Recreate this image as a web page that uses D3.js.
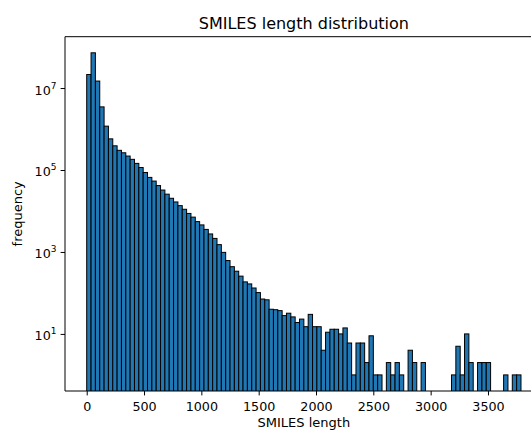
<!DOCTYPE html>
<html>
<head>
<meta charset="utf-8">
<script src="https://cdn.jsdelivr.net/npm/d3@7"></script>
<style>
  html, body { margin: 0; padding: 0; background: #fff; }
  svg { display: block; font-family: "DejaVu Sans", sans-serif; }
</style>
</head>
<body>
<svg id="chart" width="531" height="430"></svg>
<script>
// ---- data ----
const title = "SMILES length distribution";
const xLabel = "SMILES length";
const yLabel = "frequency";
const minLength = 0;
const maxLength = 3788;
const binCount = 100;
const counts = [
  21400000, 72400000, 14800000, 3470000, 1175000, 575000, 389000, 302000, 263000, 219000,
  182000, 145000, 115000, 87000, 66000, 53700, 41700, 32400, 25700, 20400,
  16600, 13500, 11000, 8710, 7080, 5500, 4570, 3550, 2750, 2140,
  1510, 977, 617, 437, 339, 257, 186, 166, 132, 102,
  71, 68, 40, 39, 37, 28, 32, 26, 19, 23,
  15, 30, 15, 15, 4, 11, 13, 13, 10, 14,
  6, 1, 6, 6, 2, 9, 1, 1, 0, 2,
  1, 2, 1, 0, 4, 2, 0, 2, 0, 0,
  0, 0, 0, 0, 1, 5, 1, 10, 2, 0,
  2, 2, 2, 0, 0, 0, 1, 0, 1, 1
];
const xTicks = [0, 500, 1000, 1500, 2000, 2500, 3000, 3500];
const yTickExps = [1, 3, 5, 7];

// ---- layout ----
const plotLeft = 65, plotRight = 542.7, plotTop = 36.7, plotBottom = 391;
const barColor = "#1f77b4";
const tickFont = 12.7, labelFont = 13, titleFont = 16;
const tickLen = 4.4;

const svg = d3.select("#chart");

const binWidth = (maxLength - minLength) / binCount;
const bins = counts.map((c, i) => ({
  x0: minLength + i * binWidth,
  x1: minLength + (i + 1) * binWidth,
  count: c
}));

const xSpan = maxLength - minLength;
const x = d3.scaleLinear()
  .domain([minLength - 0.05 * xSpan, maxLength + 0.05 * xSpan])
  .range([plotLeft, plotRight]);

const positive = counts.filter(c => c > 0);
const lmin = Math.log10(d3.min(positive));
const lmax = Math.log10(d3.max(positive));
const lspan = lmax - lmin;
const y = d3.scaleLog()
  .domain([Math.pow(10, lmin - 0.05 * lspan), Math.pow(10, lmax + 0.05 * lspan)])
  .range([plotBottom, plotTop]);

svg.append("defs").append("clipPath").attr("id", "clip")
  .append("rect").attr("x", plotLeft).attr("y", plotTop)
  .attr("width", plotRight - plotLeft).attr("height", plotBottom - plotTop);

// bars
svg.append("g").attr("clip-path", "url(#clip)")
  .selectAll("rect")
  .data(bins.filter(b => b.count > 0))
  .join("rect")
  .attr("x", d => x(d.x0))
  .attr("width", d => x(d.x1) - x(d.x0))
  .attr("y", d => y(d.count))
  .attr("height", d => plotBottom + 2 - y(d.count))
  .attr("fill", barColor)
  .attr("stroke", "#000")
  .attr("stroke-width", 1);

// x axis
const xAxis = d3.axisBottom(x).tickValues(xTicks).tickSize(tickLen).tickPadding(7).tickFormat(d3.format("d"));
const gx = svg.append("g").attr("transform", `translate(0,${plotBottom})`).call(xAxis);
gx.select(".domain").remove();
gx.selectAll("text").attr("font-size", tickFont).attr("fill", "#000").attr("font-family", "DejaVu Sans");
gx.selectAll("line").attr("stroke", "#000");

// y axis
const yAxis = d3.axisLeft(y).tickValues(yTickExps.map(e => Math.pow(10, e))).tickSize(tickLen).tickPadding(4).tickFormat("");
const gy = svg.append("g").attr("transform", `translate(${plotLeft},0)`).call(yAxis);
gy.select(".domain").remove();
gy.selectAll("line").attr("stroke", "#000");
gy.selectAll(".tick").each(function(d) {
  const e = Math.round(Math.log10(d));
  const t = d3.select(this).append("text")
    .attr("x", -8.5).attr("y", 6)
    .attr("text-anchor", "end").attr("fill", "#000")
    .attr("font-size", tickFont).attr("font-family", "DejaVu Sans");
  t.append("tspan").text("10");
  t.append("tspan").attr("font-size", 9).attr("dy", -6).text(String(e));
});

// spines
const spine = svg.append("g").attr("stroke", "#000").attr("stroke-width", 1).attr("fill", "none");
spine.append("line").attr("x1", plotLeft).attr("x2", plotLeft).attr("y1", plotTop).attr("y2", plotBottom);
spine.append("line").attr("x1", plotLeft).attr("x2", plotRight).attr("y1", plotBottom).attr("y2", plotBottom);
spine.append("line").attr("x1", plotLeft).attr("x2", plotRight).attr("y1", plotTop).attr("y2", plotTop);
spine.append("line").attr("x1", plotRight).attr("x2", plotRight).attr("y1", plotTop).attr("y2", plotBottom);

// title & labels
const cx = (plotLeft + plotRight) / 2;
svg.append("text").attr("x", cx).attr("y", 29).attr("text-anchor", "middle")
  .attr("font-size", titleFont).attr("fill", "#000").text(title);
svg.append("text").attr("x", cx).attr("y", 426.5).attr("text-anchor", "middle")
  .attr("font-size", labelFont).attr("fill", "#000").text(xLabel);
svg.append("text")
  .attr("transform", `translate(22,${(plotTop + plotBottom) / 2}) rotate(-90)`)
  .attr("text-anchor", "middle")
  .attr("font-size", labelFont).attr("fill", "#000").text(yLabel);
</script>
</body>
</html>
